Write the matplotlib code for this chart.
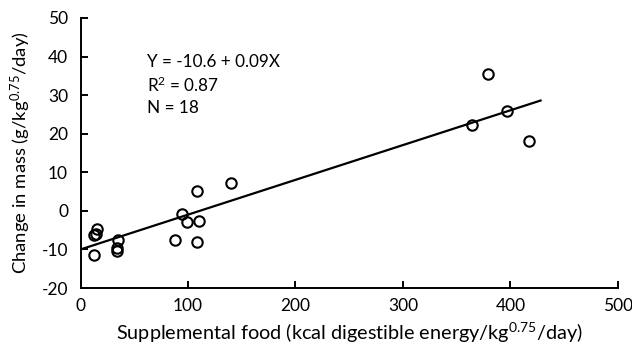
## Import Required Library

import matplotlib
matplotlib.use("Agg")
import matplotlib.pyplot as plt

## Create Data

# supplemental food offered (kcal digestible energy / kg^0.75 / day)
food = [13, 13, 14, 15, 35, 34, 34, 88, 94, 99, 108, 110, 108, 140,
        364, 379, 397, 417]

# change in body mass (g / kg^0.75 / day)
mass_change = [-11.5, -6.2, -5.9, -4.7, -7.6, -9.5, -10.3, -7.6, -0.9, -3.0,
               -8.2, -2.5, 5.1, 7.1, 22.2, 35.6, 25.8, 18.0]

# end points of the fitted regression line
fit_x = [0, 428]
fit_y = [-10.0, 28.6]

x_ticks = [0, 100, 200, 300, 400, 500]
y_ticks = [-20, -10, 0, 10, 20, 30, 40, 50]

## Set Fonts

plt.rcParams["font.family"] = ["Lato", "DejaVu Sans"]
plt.rcParams["mathtext.default"] = "regular"
plt.rcParams["axes.unicode_minus"] = False

## Create Figure

fig = plt.figure(figsize=(6.32, 3.52), dpi=100)
ax = fig.add_axes([0.1274, 0.1818, 0.8504, 0.7671])

## Draw Points and Regression Line

ax.plot(food, mass_change, linestyle="none", marker="o", markersize=7.5,
        markerfacecolor="none", markeredgecolor="black", markeredgewidth=1.5)

ax.plot(fit_x, fit_y, color="black", linewidth=1.6)

## Axes Styling

ax.set_xlim(0, 500)
ax.set_ylim(-20, 50)
ax.set_xticks(x_ticks)
ax.set_yticks(y_ticks)

for side in ["top", "right"]:
    ax.spines[side].set_visible(False)
for side in ["left", "bottom"]:
    ax.spines[side].set_linewidth(1.4)

ax.tick_params(direction="in", length=5, width=1.4, labelsize=12.5,
               colors="black")
ax.tick_params(axis="x", pad=7)
ax.tick_params(axis="y", pad=9)

ax.set_xlabel("Supplemental food (kcal digestible energy/kg$^{0.75}$/day)",
              fontsize=14.3, labelpad=5)
ax.set_ylabel("Change in mass (g/kg$^{0.75}$/day)", fontsize=13.3,
              labelpad=6)

## Add Regression Text

ax.text(0.124, 0.837, "Y = -10.6 + 0.09X", transform=ax.transAxes,
        fontsize=12.3, va="center")
ax.text(0.124, 0.752, "R$^{2}$ = 0.87", transform=ax.transAxes,
        fontsize=12.3, va="center")
ax.text(0.124, 0.667, "N = 18", transform=ax.transAxes,
        fontsize=12.3, va="center")

## Save Figure

fig.savefig("out.png", dpi=100)
